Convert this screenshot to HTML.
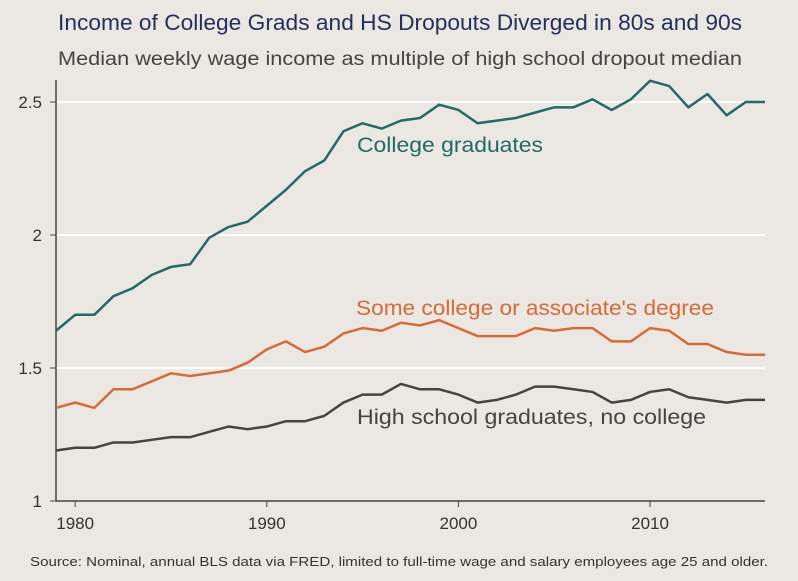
<!DOCTYPE html>
<html><head><meta charset="utf-8"><style>
body{margin:0;background:#ebe7e3;font-family:"Liberation Sans",sans-serif;}
svg{display:block}
</style></head><body>
<svg width="798" height="581">
<rect width="798" height="581" fill="#ebe7e3"/>
<text x="58" y="30" font-size="22" fill="#22305c" textLength="684" lengthAdjust="spacingAndGlyphs">Income of College Grads and HS Dropouts Diverged in 80s and 90s</text>
<text x="58" y="65" font-size="19" fill="#444" textLength="684" lengthAdjust="spacingAndGlyphs">Median weekly wage income as multiple of high school dropout median</text>
<g id="grid"></g><g id="axes"></g><g id="lines"></g>
<text x="357" y="152" font-size="21" fill="#236a66" textLength="186" lengthAdjust="spacingAndGlyphs">College graduates</text>
<text x="356" y="315" font-size="21" fill="#d86a35" textLength="358" lengthAdjust="spacingAndGlyphs">Some college or associate's degree</text>
<text x="357" y="424" font-size="21" fill="#444" textLength="349" lengthAdjust="spacingAndGlyphs">High school graduates, no college</text>
<text x="30" y="566" font-size="13" fill="#333" textLength="738" lengthAdjust="spacingAndGlyphs">Source: Nominal, annual BLS data via FRED, limited to full-time wage and salary employees age 25 and older.</text>
</svg>
<script>
const years=[1979,1980,1981,1982,1983,1984,1985,1986,1987,1988,1989,1990,1991,1992,1993,1994,1995,1996,1997,1998,1999,2000,2001,2002,2003,2004,2005,2006,2007,2008,2009,2010,2011,2012,2013,2014,2015,2016];
const collegeValues=[1.64,1.70,1.70,1.77,1.80,1.85,1.88,1.89,1.99,2.03,2.05,2.11,2.17,2.24,2.28,2.39,2.42,2.40,2.43,2.44,2.49,2.47,2.42,2.43,2.44,2.46,2.48,2.48,2.51,2.47,2.51,2.58,2.56,2.48,2.53,2.45,2.50,2.50];
const someCollegeValues=[1.35,1.37,1.35,1.42,1.42,1.45,1.48,1.47,1.48,1.49,1.52,1.57,1.60,1.56,1.58,1.63,1.65,1.64,1.67,1.66,1.68,1.65,1.62,1.62,1.62,1.65,1.64,1.65,1.65,1.60,1.60,1.65,1.64,1.59,1.59,1.56,1.55,1.55];
const hsValues=[1.19,1.20,1.20,1.22,1.22,1.23,1.24,1.24,1.26,1.28,1.27,1.28,1.30,1.30,1.32,1.37,1.40,1.40,1.44,1.42,1.42,1.40,1.37,1.38,1.40,1.43,1.43,1.42,1.41,1.37,1.38,1.41,1.42,1.39,1.38,1.37,1.38,1.38];
const yTicks=[1,1.5,2,2.5];
const yTickLabels=["1","1.5","2","2.5"];
const xTicks=[1980,1990,2000,2010];
const xTickLabels=["1980","1990","2000","2010"];
const NS="http://www.w3.org/2000/svg";
const x=v=>56+(v-1979)*(709/37);
const y=v=>501-(v-1)*266;
function mk(t,a,p){const e=document.createElementNS(NS,t);for(const k in a)e.setAttribute(k,a[k]);p.appendChild(e);return e;}
const grid=document.getElementById('grid'),axes=document.getElementById('axes'),lines=document.getElementById('lines');
yTicks.forEach((v,i)=>{
 if(v>1){const g=mk('line',{x1:56,x2:765,y1:y(v),y2:y(v),stroke:'#fff','stroke-width':2},grid);
 
 }
 const t=mk('line',{x1:50,x2:56,y1:y(v),y2:y(v),stroke:'#444','stroke-width':1},axes);
 
 
 const l=mk('text',{x:42,y:y(v)+6,'font-size':17,fill:'#333','text-anchor':'end'},axes);l.textContent=yTickLabels[i];
 
 
});
const ya=mk('line',{x1:56,x2:56,y1:80,y2:501,stroke:'#444','stroke-width':1.5},axes);


const xa=mk('line',{x1:56,x2:765,y1:501,y2:501,stroke:'#444','stroke-width':1.5},axes);


xTicks.forEach((v,i)=>{
 const t=mk('line',{x1:x(v),x2:x(v),y1:501,y2:507,stroke:'#444'},axes);
 
 
 const l=mk('text',{x:x(v),y:529,'font-size':17,fill:'#333','text-anchor':'middle'},axes);l.textContent=xTickLabels[i];
 
 
});
[[collegeValues,'#236a66','line-college-graduates'],[someCollegeValues,'#d86a35','line-some-college'],[hsValues,'#444','line-high-school']].forEach(([vals,c,n])=>{
 const p=mk('polyline',{points:vals.map((v,i)=>x(years[i])+','+y(v)).join(' '),fill:'none',stroke:c,'stroke-width':2.5,'stroke-linejoin':'round'},lines);
 
 
});
</script>
</body></html>
